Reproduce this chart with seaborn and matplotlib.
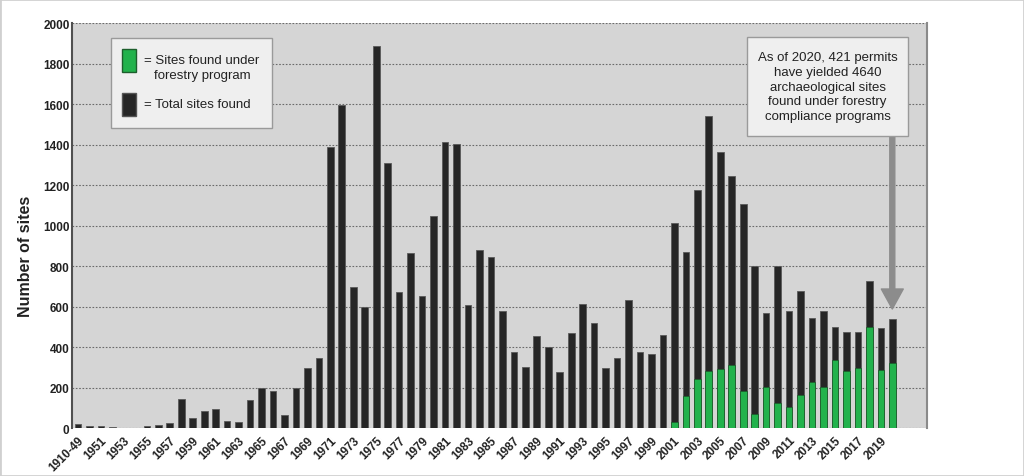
import matplotlib
matplotlib.use("Agg")
import matplotlib.pyplot as plt
from matplotlib.patches import Rectangle
import seaborn as sns
import pandas as pd

# ---- data ----
categories = ["1910-49"] + [str(y) for y in range(1950, 2021)]
total_sites = [20, 10, 10, 7, 0, 0, 12, 15, 25, 144,
               50, 83, 93, 38, 31, 139, 200, 183, 66, 200,
               299, 349, 1390, 1595, 696, 599, 1886, 1308, 674, 863,
               653, 1049, 1414, 1401, 607, 882, 844, 577, 375, 303,
               454, 401, 276, 472, 613, 518, 296, 347, 632, 375,
               365, 462, 1015, 872, 1174, 1540, 1362, 1247, 1105, 800,
               569, 800, 577, 676, 544, 577, 500, 474, 474, 725,
               497, 538]
forestry_years = [str(y) for y in range(2001, 2021)]
forestry_sites = [33, 161, 243, 284, 293, 314, 183, 71, 205, 126,
                  103, 164, 230, 205, 335, 284, 298, 500, 288, 324]
tick_labels = categories[::2]
y_ticks = [0, 200, 400, 600, 800, 1000, 1200, 1400, 1600, 1800, 2000]

df_total = pd.DataFrame({"year": categories, "sites": total_sites})
df_forest = pd.DataFrame({"year": forestry_years, "sites": forestry_sites})

W, H = 1024, 477
fig = plt.figure(figsize=(W / 100, H / 100), dpi=100)
plt.rcParams["font.family"] = ["Liberation Sans", "DejaVu Sans"]

ax = fig.add_axes([72.3 / W, 1 - 429.3 / H, (926.7 - 72.3) / W, (429.3 - 24.1) / H])
ax.set_facecolor("#d5d5d5")

sns.barplot(data=df_total, x="year", y="sites", order=categories, color="#262626",
            saturation=1, width=0.58, errorbar=None, edgecolor="#5a5a5a", linewidth=0.6,
            ax=ax, zorder=3)
sns.barplot(data=df_forest, x="year", y="sites", order=categories, color="#22b24c",
            saturation=1, width=0.58, errorbar=None, edgecolor="#1d5e2c", linewidth=0.6,
            ax=ax, zorder=4)

ax.set_xlim(-0.5, 74.0)
ax.set_ylim(0, 2000)
ax.set_yticks(y_ticks)
ax.set_yticklabels([str(v) for v in y_ticks], fontsize=8.5, fontweight="bold", color="#222222")
ax.set_xticks(range(0, len(categories), 2))
ax.set_xticklabels(tick_labels, rotation=45, ha="right", rotation_mode="anchor",
                   fontsize=8.5, fontweight="bold", color="#222222")
ax.tick_params(axis="both", length=0)
ax.tick_params(axis="y", pad=2)
ax.tick_params(axis="x", pad=4)

ax.grid(axis="y", linestyle=(0, (1.5, 1.5)), color="#6a6a6a", linewidth=0.8, zorder=1)
ax.grid(axis="x", visible=False)
ax.set_axisbelow(True)
for s in ["top", "bottom"]:
    ax.spines[s].set_visible(False)
ax.spines["left"].set_color("#505050")
ax.spines["left"].set_linewidth(1.5)
ax.spines["right"].set_color("#8a8a8a")
ax.spines["right"].set_linewidth(1.5)

ax.set_xlabel("")
ax.set_ylabel("Number of sites", fontsize=11.5, fontweight="bold", color="#222222")
ax.yaxis.set_label_coords((33.5 - 72.3) / 854.4, (429.3 - 256) / 405.2)


def fx(x):
    return x / W


def fy(y):
    return 1 - y / H


def box(x0, y0, x1, y1, face, edge, lw=1.0):
    fig.add_artist(Rectangle((fx(x0), fy(y1)), fx(x1) - fx(x0), fy(y0) - fy(y1),
                             transform=fig.transFigure, facecolor=face,
                             edgecolor=edge, linewidth=lw, zorder=10))


# legend
box(110.7, 39.3, 271.7, 129.3, "#efefef", "#9a9a9a")
box(122, 50, 136, 73, "#22b24c", "#1d5e2c", 1.0)
box(122, 94, 136, 117, "#262626", "#555555", 1.0)
fig.text(fx(144), fy(61.5), "= Sites found under", fontsize=9.5, va="center", ha="left",
         color="#222222", zorder=11)
fig.text(fx(154), fy(76.5), "forestry program", fontsize=9.5, va="center", ha="left",
         color="#222222", zorder=11)
fig.text(fx(144), fy(105), "= Total sites found", fontsize=9.5, va="center", ha="left",
         color="#222222", zorder=11)

# annotation box and arrow
ax.annotate("", xy=(892.3, H - 310), xycoords="figure pixels",
            xytext=(892.3, H - 136), textcoords="figure pixels",
            arrowprops=dict(arrowstyle="simple,head_length=1.44,head_width=1.58,tail_width=0.36",
                            mutation_scale=10, color="#8c8c8c", shrinkA=0, shrinkB=0),
            zorder=9)
box(746.7, 38.3, 908.3, 136.7, "#efefef", "#9a9a9a")
fig.text(fx(827.5), fy(87.5),
         "As of 2020, 421 permits\nhave yielded 4640\narchaeological sites\nfound under forestry\ncompliance programs",
         fontsize=9.5, ha="center", va="center", linespacing=1.3, color="#222222", zorder=11)

# figure frame
fig.add_artist(Rectangle((0, 0), 1, 1, transform=fig.transFigure, fill=False,
                         edgecolor="#d0d0d0", linewidth=2, zorder=20))

fig.savefig("out.png", dpi=100)
